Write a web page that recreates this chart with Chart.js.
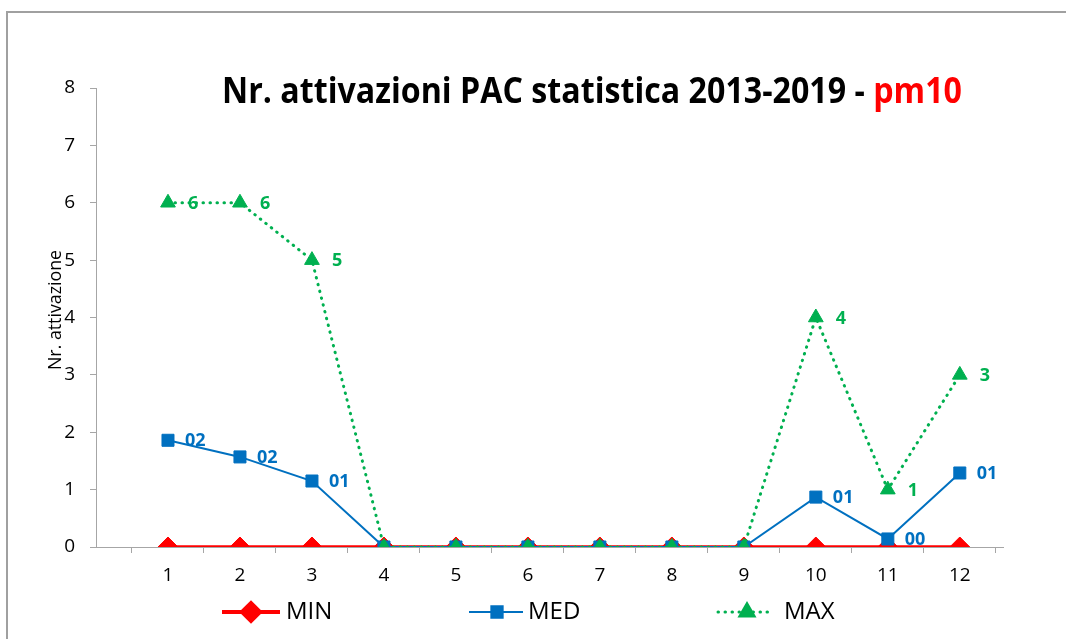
<!DOCTYPE html>
<html>
<head>
<meta charset="utf-8">
<script src="https://cdn.jsdelivr.net/npm/chart.js@4.4.0/dist/chart.umd.min.js"></script>
<style>
  html, body { margin: 0; padding: 0; background: #fff; }
  #wrap { width: 1066px; height: 639px; position: relative; }
</style>
</head>
<body>
<div id="wrap"><canvas id="c" width="1066" height="639"></canvas></div>
<script>
// ---- data ----
const months = [1, 2, 3, 4, 5, 6, 7, 8, 9, 10, 11, 12];
const minValues = [0, 0, 0, 0, 0, 0, 0, 0, 0, 0, 0, 0];
const medValues = [1.86, 1.57, 1.15, 0, 0, 0, 0, 0, 0, 0.87, 0.14, 1.29];
const maxValues = [6, 6, 5, 0, 0, 0, 0, 0, 0, 4, 1, 3];
const yTicks = [0, 1, 2, 3, 4, 5, 6, 7, 8];
const seriesNames = ['MIN', 'MED', 'MAX'];
const titleMain = 'Nr. attivazioni PAC statistica 2013-2019 - ';
const titleRed = 'pm10';
const yTitle = 'Nr. attivazione';

const RED = '#FF0000', BLUE = '#0070C0', GREEN = '#00B050';
const toXY = vals => vals.map((v, i) => ({ x: months[i], y: v }));

const xTickValues = [];
for (let v = 0.5; v <= 12.5; v += 0.5) xTickValues.push(v);

const frame = {
  id: 'frame',
  beforeDraw(chart) {
    const ctx = chart.ctx;
    ctx.save();
    ctx.fillStyle = '#fff';
    ctx.fillRect(0, 0, chart.width, chart.height);
    ctx.strokeStyle = '#a0a0a0';
    ctx.lineWidth = 2;
    ctx.beginPath();
    ctx.moveTo(7, 639);
    ctx.lineTo(7, 12);
    ctx.lineTo(1066, 12);
    ctx.stroke();
    ctx.restore();
  },
  afterDraw(chart) {
    const ctx = chart.ctx;
    ctx.save();
    // title
    ctx.font = 'bold 35px "Open Sans"';
    ctx.textBaseline = 'alphabetic';
    const w1 = ctx.measureText(titleMain).width;
    const w2 = ctx.measureText(titleRed).width;
    const sx = 740 / (w1 + w2);
    ctx.translate(222, 103);
    ctx.scale(sx, 1);
    ctx.fillStyle = '#000';
    ctx.fillText(titleMain, 0, 0);
    ctx.fillStyle = RED;
    ctx.fillText(titleRed, w1, 0);
    ctx.restore();

    // y title
    ctx.save();
    ctx.font = '18px "Open Sans"';
    const wy = ctx.measureText(yTitle).width;
    ctx.translate(61, 310);
    ctx.rotate(-Math.PI / 2);
    ctx.scale(120 / wy, 1);
    ctx.fillStyle = '#000';
    ctx.textAlign = 'center';
    ctx.textBaseline = 'alphabetic';
    ctx.fillText(yTitle, 0, 0);
    ctx.restore();

    // legend
    const items = [
      { name: seriesNames[0], color: RED, x0: 222, x1: 280, mx: 251, tx: 286, lw: 4, dash: [], style: 'rectRot', r: 9 },
      { name: seriesNames[1], color: BLUE, x0: 469, x1: 523, mx: 497, tx: 528, lw: 2, dash: [], style: 'rect', r: 8 },
      { name: seriesNames[2], color: GREEN, x0: 718, x1: 773, mx: 747, tx: 784, lw: 3, dash: [0.5, 6.5], style: 'triangle', r: 8 }
    ];
    const ly = 612;
    items.forEach(it => {
      ctx.save();
      ctx.strokeStyle = it.color;
      ctx.lineWidth = it.lw;
      ctx.setLineDash(it.dash);
      ctx.lineCap = it.dash.length ? 'round' : 'butt';
      ctx.beginPath();
      ctx.moveTo(it.x0, ly);
      ctx.lineTo(it.x1, ly);
      ctx.stroke();
      ctx.setLineDash([]);
      ctx.fillStyle = it.color;
      Chart.helpers.drawPoint(ctx, { pointStyle: it.style, radius: it.r, borderWidth: 1 }, it.mx, ly);
      ctx.fill();
      ctx.fillStyle = '#000';
      ctx.font = '24px "Open Sans"';
      ctx.textBaseline = 'middle';
      ctx.fillText(it.name, it.tx, ly);
      ctx.restore();
    });
  },
  afterDatasetsDraw(chart) {
    const ctx = chart.ctx;
    ctx.save();
    ctx.font = 'bold 18px "Open Sans"';
    ctx.textBaseline = 'middle';
    ctx.textAlign = 'left';
    chart.data.datasets.forEach((ds, di) => {
      if (!ds.labelFmt) return;
      const meta = chart.getDatasetMeta(di);
      meta.data.forEach((pt, i) => {
        const v = ds.data[i].y;
        if (!(v > 0)) return;
        ctx.fillStyle = ds.borderColor;
        ctx.fillText(ds.labelFmt(v), pt.x + ds.labelDx, pt.y + 1);
      });
    });
    ctx.restore();
  }
};

new Chart(document.getElementById('c'), {
  type: 'line',
  data: {
    datasets: [
      {
        label: seriesNames[0], data: toXY(minValues), borderColor: RED, backgroundColor: RED,
        borderWidth: 3.5, pointStyle: 'rectRot', pointRadius: 10, pointBorderWidth: 1, order: 3
      },
      {
        label: seriesNames[1], data: toXY(medValues), borderColor: BLUE, backgroundColor: BLUE,
        borderWidth: 2, pointStyle: 'rect', pointRadius: 8.5, pointBorderWidth: 1, order: 2,
        labelFmt: v => String(Math.round(v)).padStart(2, '0'), labelDx: 17
      },
      {
        label: seriesNames[2], data: toXY(maxValues), borderColor: GREEN, backgroundColor: GREEN,
        borderWidth: 3, borderDash: [0.5, 6.5], borderCapStyle: 'round',
        pointStyle: 'triangle', pointRadius: 8.5, pointBorderWidth: 1, order: 1,
        labelFmt: v => String(v), labelDx: 20
      }
    ]
  },
  options: {
    responsive: false,
    devicePixelRatio: 1,
    animation: false,
    layout: { padding: { left: 0, top: 88, right: 63, bottom: 0 } },
    plugins: { legend: { display: false }, title: { display: false }, tooltip: { enabled: false } },
    elements: { line: { tension: 0 } },
    scales: {
      x: {
        type: 'linear', min: 0, max: 12.6,
        afterBuildTicks: s => { s.ticks = xTickValues.map(v => ({ value: v })); },
        afterFit: s => { s.height = 92; },
        border: { color: '#a6a6a6', width: 1 },
        grid: {
          drawOnChartArea: false, drawTicks: true, tickLength: 6,
          tickColor: ctx => (ctx.tick && ctx.tick.value % 1 !== 0) ? '#a6a6a6' : 'rgba(0,0,0,0)'
        },
        ticks: {
          autoSkip: false, maxRotation: 0, padding: 11,
          color: '#000', font: { family: 'Open Sans', size: 19 },
          callback: v => Number.isInteger(v) ? String(v) : ''
        }
      },
      y: {
        min: 0, max: 8,
        afterBuildTicks: s => { s.ticks = yTicks.map(v => ({ value: v })); },
        afterFit: s => { s.width = 96; },
        border: { color: '#a6a6a6', width: 1 },
        grid: { drawOnChartArea: false, drawTicks: true, tickLength: 6, tickColor: '#a6a6a6' },
        ticks: { padding: 15, color: '#000', font: { family: 'Open Sans', size: 19 } }
      }
    }
  },
  plugins: [frame]
});
</script>
</body>
</html>
